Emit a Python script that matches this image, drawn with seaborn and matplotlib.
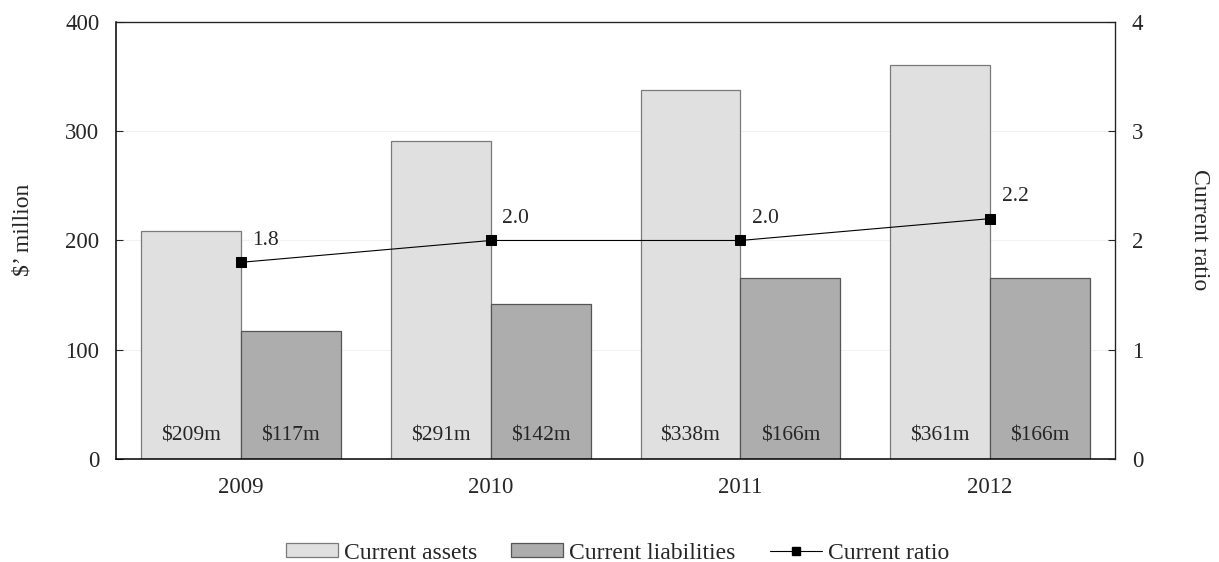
import numpy as np
import pandas as pd
import matplotlib
matplotlib.use("Agg")
import matplotlib.pyplot as plt
from matplotlib.patches import Patch
from matplotlib.lines import Line2D
from matplotlib.ticker import FixedLocator, NullLocator
import seaborn as sns

years = ["2009", "2010", "2011", "2012"]
current_assets = [209, 291, 338, 361]
current_liabilities = [117, 142, 166, 166]
current_ratio = [1.8, 2.0, 2.0, 2.2]
series_names = ["Current assets", "Current liabilities"]

FS_DATA = 15.5   # value labels on bars and line
FS_TICK = 16.5   # tick labels
FS_LABEL = 17    # axis titles and legend

sns.set_style("white")
plt.rcParams["font.family"] = ["Liberation Serif", "DejaVu Serif"]
plt.rcParams["font.size"] = FS_DATA

df = pd.DataFrame({
    "year": years * 2,
    "value": current_assets + current_liabilities,
    "series": [series_names[0]] * len(years) + [series_names[1]] * len(years),
})

bar_fill = {series_names[0]: "#e0e0e0", series_names[1]: "#adadad"}
bar_edge = {series_names[0]: "#7a7a7a", series_names[1]: "#555555"}

fig = plt.figure(figsize=(12.19, 5.62), dpi=100)
ax = fig.add_axes([0.0952, 0.1833, 0.8195, 0.7776])

sns.barplot(data=df, x="year", y="value", hue="series", order=years,
            hue_order=series_names, palette=bar_fill, width=0.8,
            saturation=1, ax=ax, legend=False, zorder=2)

for container, name in zip(ax.containers, series_names):
    for patch in container:
        patch.set_edgecolor(bar_edge[name])
        patch.set_linewidth(0.9)
    for patch, v in zip(container, container.datavalues):
        ax.text(patch.get_x() + patch.get_width() / 2, 21, f"\\${int(v)}m",
                ha="center", va="center", fontsize=FS_DATA, zorder=4)

ax.set_xlim(-0.5, len(years) - 0.5)
ax.set_ylim(0, 400)
ax.set_yticks([0, 100, 200, 300, 400])
ax.yaxis.grid(True, color="#f2f2f2", linewidth=0.8, zorder=0)
ax.set_axisbelow(True)
ax.set_xlabel("")
ax.set_ylabel("\\$\u2019 million", fontsize=FS_LABEL)
ax.yaxis.set_label_coords(-0.083, 0.524)
ax.tick_params(axis="y", direction="in", length=5, width=0.8, pad=12,
               labelsize=FS_TICK, left=True)
ax.tick_params(axis="x", which="major", length=0, pad=13, labelsize=FS_TICK)
ax.xaxis.set_minor_locator(FixedLocator([0.5, 1.5, 2.5]))
ax.tick_params(axis="x", which="minor", direction="in", length=5,
               width=0.8, bottom=True)

for side in ["left", "bottom"]:
    ax.spines[side].set_color("black")
    ax.spines[side].set_linewidth(1.1)
for side in ["top", "right"]:
    ax.spines[side].set_color("#333333")
    ax.spines[side].set_linewidth(0.8)

ax2 = ax.twinx()
ratio_df = pd.DataFrame({"pos": np.arange(len(years)), "ratio": current_ratio})
sns.lineplot(data=ratio_df, x="pos", y="ratio", ax=ax2, color="black",
             linewidth=0.8, marker="s", markersize=7, markeredgecolor="black",
             legend=False, zorder=5)
for x, v in zip(ratio_df["pos"], current_ratio):
    ax2.annotate(f"{v:.1f}", (x, v), xytext=(18, 16),
                 textcoords="offset points", ha="center", va="center",
                 fontsize=FS_DATA)
ax2.set_ylim(0, 4)
ax2.set_yticks([0, 1, 2, 3, 4])
ax2.set_xlabel("")
ax2.set_ylabel("Current ratio", fontsize=FS_LABEL, rotation=-90,
               va="bottom", ha="center")
ax2.yaxis.set_label_coords(1.074, 0.524)
ax2.tick_params(axis="y", direction="in", length=5, width=0.8, pad=12,
                labelsize=FS_TICK, right=True)
ax2.xaxis.set_minor_locator(NullLocator())
for side in ["top", "right"]:
    ax2.spines[side].set_color("#222222")
    ax2.spines[side].set_linewidth(0.9)
ax2.spines["left"].set_visible(False)
ax2.spines["bottom"].set_visible(False)

handles = [
    Patch(facecolor=bar_fill[series_names[0]], edgecolor=bar_edge[series_names[0]], linewidth=0.9),
    Patch(facecolor=bar_fill[series_names[1]], edgecolor=bar_edge[series_names[1]], linewidth=0.9),
    Line2D([0], [0], color="black", linewidth=0.8, marker="s", markersize=6),
]
fig.legend(handles, series_names + ["Current ratio"], loc="center",
           bbox_to_anchor=(0.5066, 0.016), ncol=3, frameon=False,
           fontsize=FS_LABEL, handlelength=2.2, handleheight=0.5,
           handletextpad=0.25, columnspacing=1.45,
           borderpad=0.0)

fig.savefig("out.png", dpi=100)
